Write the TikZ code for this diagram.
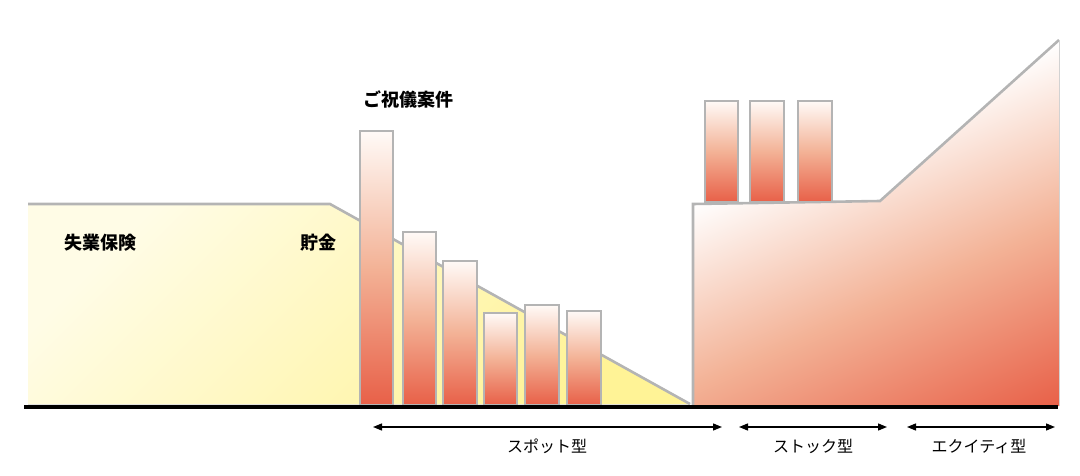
\documentclass[tikz,border=0pt]{standalone}
\usepackage{fontspec}
\newfontfamily\jpfont{Noto Sans CJK JP}
\usetikzlibrary{arrows.meta}

\definecolor{edgegray}{RGB}{180,180,180}
\definecolor{barred}{RGB}{232,96,72}
\definecolor{barpeach}{RGB}{243,178,150}
\definecolor{barwhite}{RGB}{255,250,247}
\definecolor{cream}{RGB}{255,252,230}
\definecolor{lemon}{RGB}{255,243,150}

\tikzset{
    bar/.style={draw=edgegray, line width=2.6pt, top color=barwhite, bottom color=barred, middle color=barpeach},
    label/.style={font=\jpfont\fontsize{18}{20}\selectfont\bfseries},
    span/.style={{Triangle[length=9pt,width=7pt]}-{Triangle[length=9pt,width=7pt]}, line width=1.3pt},
    spanlabel/.style={font=\jpfont\fontsize{16}{18}\selectfont}
}

\begin{document}
\begin{tikzpicture}[x=1pt,y=-1pt]
        \useasboundingbox (0,0) rectangle (1080,476);

        % the savings area
        \fill[top color=cream, bottom color=lemon, shading angle=45]
            (28,204) -- (330,204) -- (690,404) -- (28,404) -- cycle;
        \draw[edgegray, line width=2.6pt] (28,204) -- (330,204) -- (690,404);

        % the one-off bars
        \filldraw[bar] (360,131) rectangle (393,405);
        \filldraw[bar] (403,232) rectangle (436,405);
        \filldraw[bar] (443,261) rectangle (477,405);
        \filldraw[bar] (484,313) rectangle (517,405);
        \filldraw[bar] (525,305) rectangle (559,405);
        \filldraw[bar] (567,311) rectangle (601,405);

        % the stock / equity block (gradient runs across the top slope)
        \begin{scope}
            \clip (693,406) -- (693,204) -- (880,201) -- (1059,40) -- (1059,406) -- cycle;
            \shade[transform canvas={rotate around={24.1:(693,204)}}, top color=white, bottom color=barred, middle color=barpeach]
                (600,204) rectangle (1110,538);
        \end{scope}
        \draw[edgegray, line width=2.6pt] (693,406) -- (693,204) -- (880,201) -- (1059,40);
        \draw[edgegray!60, line width=1pt] (1059,40) -- (1059,406);

        % the small bars on top
        \filldraw[bar] (705,101) rectangle (738,202);
        \filldraw[bar] (750,101) rectangle (784,202);
        \filldraw[bar] (798,101) rectangle (832,202);

        % the ground line
        \draw[line width=4.5pt] (24,407) -- (1058,407);

        % the texts
        \node[label] (unemp) at (100,243) {失業保険};
        \node[label] (saving) at (318,243) {貯金};
        \node[label] (gift) at (408,100) {ご祝儀案件};

        % the ranges below
        \coordinate (s1) at (373,427);
        \coordinate (s2) at (722,427);
        \coordinate (k1) at (739,427);
        \coordinate (k2) at (887,427);
        \coordinate (e1) at (907,427);
        \coordinate (e2) at (1055,427);
        \draw[span] (s1) -- (s2);
        \draw[span] (k1) -- (k2);
        \draw[span] (e1) -- (e2);

        \node[spanlabel] (spot) at (547,446) {スポット型};
        \node[spanlabel] (stock) at (813,446) {ストック型};
        \node[spanlabel] (equity) at (979,446) {エクイティ型};

    \end{tikzpicture}
\end{document}
